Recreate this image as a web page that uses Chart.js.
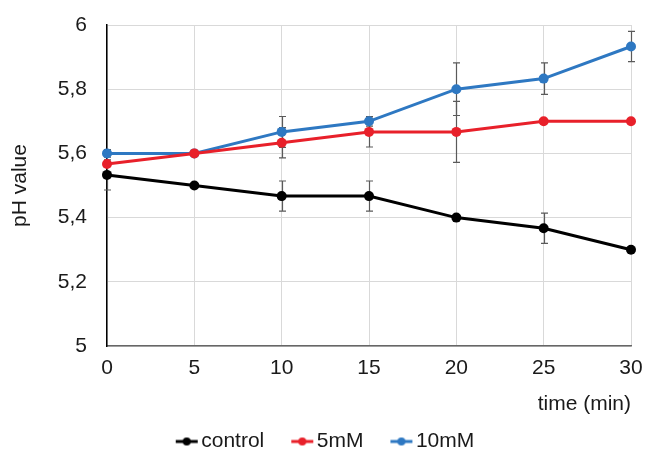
<!DOCTYPE html>
<html>
<head>
<meta charset="utf-8">
<script src="https://cdn.jsdelivr.net/npm/chart.js@4/dist/chart.umd.min.js"></script>
<style>
  html, body { margin: 0; padding: 0; background: #fff; overflow: hidden; }
  #chart { display: block; }
</style>
</head>
<body>
<canvas id="chart" width="655" height="452"></canvas>
<script>
// time points (min)
var times = [0, 5, 10, 15, 20, 25, 30];
var seriesNames = ["control", "5mM", "10mM"];
var colors = ["#000000", "#e8202a", "#2e78c2"];

// pH values
var controlPh = [5.533, 5.5, 5.467, 5.467, 5.4, 5.367, 5.3];
var mM5Ph = [5.567, 5.6, 5.633, 5.667, 5.667, 5.7, 5.7];
var mM10Ph = [5.6, 5.6, 5.667, 5.7, 5.8, 5.833, 5.933];

// error bar half-heights (0 = none)
var controlErr = [0.047, 0, 0.047, 0.047, 0, 0.047, 0];
var mM5Err = [0, 0, 0.047, 0.047, 0.095, 0, 0];
var mM10Err = [0.012, 0, 0.048, 0.015, 0.082, 0.049, 0.047];

var yTicks = [5, 5.2, 5.4, 5.6, 5.8, 6];

var allValues = [controlPh, mM5Ph, mM10Ph];
var allErrors = [controlErr, mM5Err, mM10Err];

var FONT = "'Liberation Sans', Arial, sans-serif";
var FS = 21;
var TEXT = "#1a1a1a";

// legend marker: short line with a dot, shifted right inside a wider image
function legendMark(color) {
    var c = document.createElement("canvas");
    c.width = 50;
    c.height = 10;
    var g = c.getContext("2d");
    g.strokeStyle = color;
    g.lineWidth = 3;
    g.beginPath();
    g.moveTo(27, 5);
    g.lineTo(49, 5);
    g.stroke();
    g.fillStyle = color;
    g.beginPath();
    g.arc(38, 5, 4, 0, Math.PI * 2);
    g.fill();
    return c;
}
var marks = colors.map(legendMark);

// draws the vertical error bars through the chart's scales
var errorBars = {
    id: "errorBars",
    beforeDatasetsDraw: function (chart) {
        var ctx = chart.ctx;
        var x = chart.scales.x;
        var y = chart.scales.y;
        ctx.save();
        ctx.strokeStyle = "#5a5a5a";
        ctx.lineWidth = 1.2;
        allValues.forEach(function (vals, i) {
            vals.forEach(function (v, j) {
                var e = allErrors[i][j];
                if (!e) return;
                var px = Math.round(x.getPixelForValue(times[j])) + 0.5;
                var top = y.getPixelForValue(v + e);
                var bot = y.getPixelForValue(v - e);
                ctx.beginPath();
                ctx.moveTo(px, top);
                ctx.lineTo(px, bot);
                ctx.moveTo(px - 3.5, top);
                ctx.lineTo(px + 3.5, top);
                ctx.moveTo(px - 3.5, bot);
                ctx.lineTo(px + 3.5, bot);
                ctx.stroke();
            });
        });
        ctx.restore();
    }
};

var datasets = allValues.map(function (vals, i) {
    return {
        label: seriesNames[i],
        data: vals.map(function (v, j) { return { x: times[j], y: v }; }),
        borderColor: colors[i],
        backgroundColor: colors[i],
        borderWidth: 3,
        pointRadius: 5,
        pointHoverRadius: 5,
        pointBorderWidth: 0,
        tension: 0,
        clip: false
    };
});

new Chart(document.getElementById("chart"), {
    type: "line",
    data: { datasets: datasets },
    options: {
        responsive: false,
        animation: false,
        events: [],
        layout: { padding: { left: 0, right: 24, top: 25, bottom: -10 } },
        plugins: {
            tooltip: { enabled: false },
            legend: {
                position: "bottom",
                labels: {
                    usePointStyle: true,
                    pointStyleWidth: 34,
                    padding: 8,
                    color: TEXT,
                    font: { family: FONT, size: FS },
                    generateLabels: function (chart) {
                        return Chart.defaults.plugins.legend.labels.generateLabels(chart).map(function (l, i) {
                            l.pointStyle = marks[i];
                            return l;
                        });
                    }
                }
            }
        },
        scales: {
            x: {
                type: "linear",
                min: 0,
                max: 30,
                ticks: {
                    stepSize: 5,
                    padding: 10,
                    color: TEXT,
                    font: { family: FONT, size: FS }
                },
                grid: { color: "#d9d9d9", lineWidth: 1, drawTicks: false },
                border: { color: "#666666", width: 1.5 },
                title: {
                    display: true,
                    text: "time (min)",
                    align: "end",
                    color: TEXT,
                    font: { family: FONT, size: FS },
                    padding: { top: 8, bottom: 6 }
                },
                afterFit: function (scale) {
                    scale.height = 77;
                }
            },
            y: {
                min: 5,
                max: 6,
                afterBuildTicks: function (scale) {
                    scale.ticks = yTicks.map(function (v) { return { value: v }; });
                },
                ticks: {
                    padding: 0,
                    color: TEXT,
                    font: { family: FONT, size: FS },
                    callback: function (v) {
                        return Number.isInteger(v) ? String(v) : v.toFixed(1).replace(".", ",");
                    }
                },
                grid: {
                    color: "#d9d9d9",
                    lineWidth: 1,
                    drawTicks: true,
                    tickLength: 20,
                    tickColor: "rgba(0,0,0,0)"
                },
                border: { color: "#000000", width: 1.5 },
                title: {
                    display: true,
                    text: "pH value",
                    color: TEXT,
                    font: { family: FONT, size: FS },
                    padding: { top: 8, bottom: 4 }
                },
                afterFit: function (scale) {
                    scale.width = 107;
                }
            }
        }
    },
    plugins: [errorBars]
});
</script>
</body>
</html>
